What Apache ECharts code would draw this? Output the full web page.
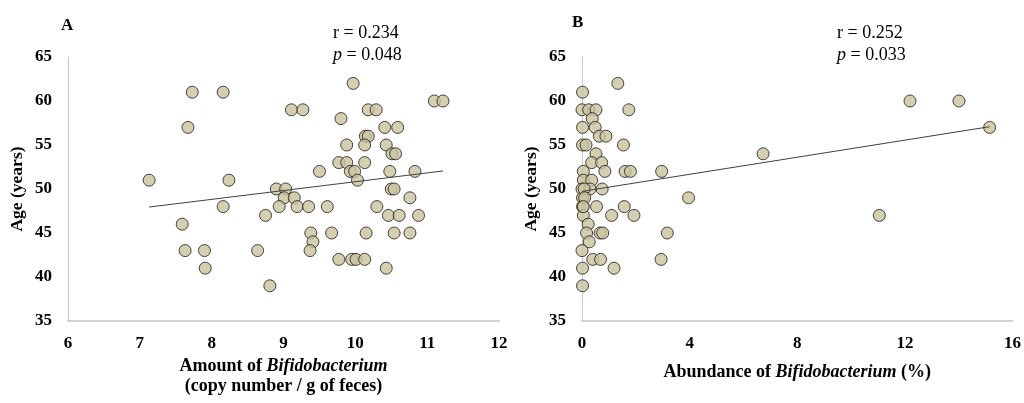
<!DOCTYPE html>
<html>
<head>
<meta charset="utf-8">
<script src="https://cdn.jsdelivr.net/npm/echarts@6/dist/echarts.min.js"></script>
<style>html,body{margin:0;padding:0;background:#fff;}#c{width:1024px;height:403px;}</style>
</head>
<body>
<div id="c"></div>
<script>
// Panel A: Amount of Bifidobacterium (log copy number / g) vs Age
const ampX = [7.73, 8.16, 7.67, 7.13, 8.24, 8.16, 8.75, 7.59, 7.63, 7.90, 7.91, 8.64, 8.81,
  9.97, 9.11, 9.27, 10.18, 10.29, 11.10, 11.22, 9.80, 10.41, 10.59, 10.14, 10.18, 9.88, 10.13, 10.43,
  10.51, 10.56, 9.77, 9.88, 10.13, 9.50, 9.93, 9.99, 10.48, 10.83, 10.03, 8.90, 9.03, 10.50, 10.54,
  9.01, 9.15, 10.76, 8.94, 9.19, 9.35, 9.61, 10.30, 10.46, 10.61, 10.88, 9.38, 9.67, 10.15, 10.54,
  10.76, 9.41, 9.37, 9.77, 9.95, 10.01, 10.13, 10.43];
const ampAge = [61, 61, 57, 51, 51, 48, 47, 46, 43, 43, 41, 43, 39,
  62, 59, 59, 59, 59, 60, 60, 58, 57, 57, 56, 56, 55, 55, 55,
  54, 54, 53, 53, 53, 52, 52, 52, 52, 52, 51, 50, 50, 50, 50,
  49, 49, 49, 48, 48, 48, 48, 48, 47, 47, 47, 45, 45, 45, 45,
  45, 44, 43, 42, 42, 42, 42, 41];
const trendAX = [7.13, 11.22];
const trendAY = [47.95, 52.05];

// Panel B: Abundance of Bifidobacterium (%) vs Age
const abuX = [1.33, 0.02, 0, 0.25, 0.52, 1.74, 0.38, 0.02, 0.49, 0.64, 0.89, 0.02, 0.15, 1.54, 0.52,
  0.36, 0.73, 0.05, 0.85, 1.60, 1.80, 2.96, 0.05, 0.36, 0, 0.30, 0.75, 0.02, 3.96, 0.02, 0.54, 1.57,
  0.05, 1.10, 1.93, 0.23, 0.17, 0.67, 0.77, 3.17, 0.27, 0, 0.40, 0.69, 2.94, 0.02, 1.19, 0.02,
  12.19, 14.01, 15.15, 6.73, 11.05, 0.08, 0.10, 0.05];
const abuAge = [62, 61, 59, 59, 59, 59, 58, 57, 57, 56, 56, 55, 55, 55, 54,
  53, 53, 52, 52, 52, 52, 52, 51, 51, 50, 50, 50, 49, 49, 48, 48, 48,
  47, 47, 47, 46, 45, 45, 45, 45, 44, 43, 42, 42, 42, 41, 41, 39,
  60, 60, 57, 54, 47, 50, 49, 48];
const trendBX = [0, 15.15];
const trendBY = [49.73, 57.08];

const yTicks = {min: 35, max: 65, interval: 5};
const xTicksA = {min: 6, max: 12, interval: 1};
const xTicksB = {min: 0, max: 16, interval: 4};

const pair = (xs, ys) => xs.map((x, i) => [x, ys[i]]);
const serif = '"Liberation Serif", "Times New Roman", serif';

const chart = echarts.init(document.getElementById('c'), null, {renderer: 'canvas'});

const xAxisCommon = {
  type: 'value',
  axisLine: {show: true, lineStyle: {color: '#d0d0d0', width: 2}},
  axisTick: {show: false},
  splitLine: {show: false},
  axisLabel: {color: '#000', fontFamily: serif, fontWeight: 'bold', fontSize: 17, margin: 14},
  nameLocation: 'middle'
};
const yAxisCommon = {
  type: 'value',
  min: yTicks.min, max: yTicks.max, interval: yTicks.interval,
  axisLine: {show: true, lineStyle: {color: '#c8c8c8', width: 1}},
  axisTick: {show: false},
  splitLine: {show: false},
  axisLabel: {color: '#000', fontFamily: serif, fontWeight: 'bold', fontSize: 17, margin: 16},
  name: 'Age (years)',
  nameLocation: 'middle',
  nameGap: 42,
  nameTextStyle: {color: '#000', fontFamily: serif, fontWeight: 'bold', fontSize: 17.5}
};
const richName = {
  b: {color: '#000', fontFamily: serif, fontWeight: 'bold', fontSize: 18, lineHeight: 20},
  i: {color: '#000', fontFamily: serif, fontWeight: 'bold', fontStyle: 'italic', fontSize: 18, lineHeight: 20}
};
const scatterStyle = {color: '#cbc39f', borderColor: '#1a1a1a', borderWidth: 1};
const statRich = {
  n: {fontFamily: serif, fontSize: 18, fill: '#000', lineHeight: 22},
  it: {fontFamily: serif, fontSize: 18, fontStyle: 'italic', fill: '#000', lineHeight: 22}
};

chart.setOption({
  backgroundColor: '#ffffff',
  animation: false,
  grid: [
    {left: 68, top: 57, width: 431, height: 264},
    {left: 582, top: 57, width: 432, height: 264}
  ],
  xAxis: [
    Object.assign({}, xAxisCommon, {
      gridIndex: 0, min: xTicksA.min, max: xTicksA.max, interval: xTicksA.interval,
      name: '{b|Amount of }{i|Bifidobacterium}\n{b|(copy number / g of feces)}',
      nameGap: 35,
      nameTextStyle: {rich: richName}
    }),
    Object.assign({}, xAxisCommon, {
      gridIndex: 1, min: xTicksB.min, max: xTicksB.max, interval: xTicksB.interval,
      name: '{b|Abundance of }{i|Bifidobacterium}{b| (%)}',
      nameGap: 41,
      nameTextStyle: {rich: richName}
    })
  ],
  yAxis: [
    Object.assign({}, yAxisCommon, {gridIndex: 0}),
    Object.assign({}, yAxisCommon, {gridIndex: 1})
  ],
  series: [
    {type: 'scatter', xAxisIndex: 0, yAxisIndex: 0, data: pair(ampX, ampAge), symbolSize: 12,
     itemStyle: scatterStyle, clip: false, z: 2},
    {type: 'line', xAxisIndex: 0, yAxisIndex: 0, data: pair(trendAX, trendAY), showSymbol: false,
     lineStyle: {color: '#404040', width: 1}, z: 3, silent: true},
    {type: 'scatter', xAxisIndex: 1, yAxisIndex: 1, data: pair(abuX, abuAge), symbolSize: 12,
     itemStyle: scatterStyle, clip: false, z: 2},
    {type: 'line', xAxisIndex: 1, yAxisIndex: 1, data: pair(trendBX, trendBY), showSymbol: false,
     lineStyle: {color: '#404040', width: 1}, z: 3, silent: true}
  ],
  graphic: [
    {type: 'text', left: 61, top: 17, style: {text: 'A', font: 'bold 17px ' + serif, fill: '#000'}},
    {type: 'text', left: 572, top: 14, style: {text: 'B', font: 'bold 17px ' + serif, fill: '#000'}},
    {type: 'text', left: 333, top: 24, style: {text: '{n|r = 0.234}\n{it|p}{n| = 0.048}', rich: statRich}},
    {type: 'text', left: 837, top: 24, style: {text: '{n|r = 0.252}\n{it|p}{n| = 0.033}', rich: statRich}}
  ]
});
</script>
</body>
</html>
